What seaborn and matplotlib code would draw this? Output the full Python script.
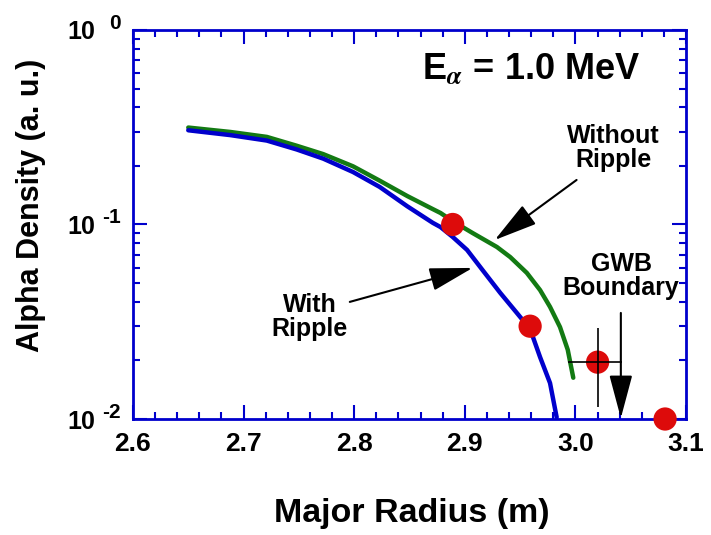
import numpy as np
import matplotlib
matplotlib.use('Agg')
import matplotlib.pyplot as plt
import seaborn as sns

# Alpha density profiles (major radius in m, density in a.u.)
r_without = [2.650, 2.688, 2.721, 2.748, 2.772, 2.799, 2.823, 2.848, 2.871, 2.878,
             2.889, 2.907, 2.929, 2.941, 2.956, 2.968, 2.977, 2.986, 2.993, 2.998]
n_without = [0.315, 0.299, 0.282, 0.254, 0.230, 0.199, 0.168, 0.140, 0.120, 0.1146,
             0.104, 0.0904, 0.0766, 0.068, 0.0564, 0.046, 0.0377, 0.0297, 0.0227, 0.0163]

r_with = [2.650, 2.688, 2.721, 2.748, 2.772, 2.799, 2.823, 2.848, 2.871, 2.878,
          2.889, 2.902, 2.916, 2.932, 2.947, 2.959, 2.968, 2.977, 2.983]
n_with = [0.305, 0.288, 0.270, 0.243, 0.218, 0.186, 0.156, 0.124, 0.102, 0.097,
          0.0863, 0.074, 0.0583, 0.0445, 0.0351, 0.029, 0.0208, 0.0153, 0.0102]

# red measurement points
r_points = [2.889, 2.959, 3.020, 3.081]
n_points = [0.100, 0.030, 0.0196, 0.0100]

# error bar on the third point
err_r = 3.020
err_n = 0.0196
err_r_range = [2.993, 3.042]
err_n_range = [0.0115, 0.0294]

x_ticks = [2.6, 2.7, 2.8, 2.9, 3.0, 3.1]
y_ticks = [1e-2, 1e-1, 1e0]
y_exponents = ['-2', '-1', '0']

blue = '#0000cc'
green = '#137a13'
red = '#dd0b0b'

sns.set_theme(style='ticks')
plt.rcParams['font.family'] = ['Liberation Sans', 'DejaVu Sans']
plt.rcParams['font.weight'] = 'bold'
plt.rcParams['text.color'] = 'black'
plt.rcParams['axes.labelcolor'] = 'black'
plt.rcParams['xtick.labelcolor'] = 'black'
plt.rcParams['ytick.labelcolor'] = 'black'

fig = plt.figure(figsize=(7.11, 5.35), dpi=100)
ax = fig.add_axes([0.187, 0.2168, 0.778, 0.7272])

sns.lineplot(x=r_without, y=n_without, color=green, lw=3.2, ax=ax, sort=False)
sns.lineplot(x=r_with, y=n_with, color=blue, lw=3.2, ax=ax, sort=False)
sns.scatterplot(x=r_points, y=n_points, color=red, s=280, edgecolor='none',
                ax=ax, zorder=4, clip_on=False)

ax.errorbar(err_r, err_n,
            xerr=[[err_r - err_r_range[0]], [err_r_range[1] - err_r]],
            yerr=[[err_n - err_n_range[0]], [err_n_range[1] - err_n]],
            fmt='none', ecolor='black', elinewidth=1.2, capsize=0, zorder=5)

ax.set_yscale('log')
ax.set_xlim(2.6, 3.1)
ax.set_ylim(1e-2, 1e0)

ax.set_xticks(x_ticks)
ax.set_xticklabels([f'{t:.1f}' for t in x_ticks])
ax.xaxis.set_minor_locator(matplotlib.ticker.MultipleLocator(0.02))
ax.set_yticks(y_ticks)
ax.set_yticklabels(['10'] * len(y_ticks))
ax.yaxis.set_minor_locator(matplotlib.ticker.LogLocator(base=10, subs=np.arange(2, 10)))
ax.yaxis.set_minor_formatter(matplotlib.ticker.NullFormatter())

# exponents drawn beside the "10" labels
for t, e in zip(y_ticks, y_exponents):
    ax.annotate(e, xy=(0, t), xycoords=ax.get_yaxis_transform(),
                xytext=(-8.6, 5), textcoords='offset points',
                ha='right', va='center', fontsize=15, fontweight='bold',
                annotation_clip=False)

for side in ['left', 'right', 'top', 'bottom']:
    ax.spines[side].set_color(blue)
    ax.spines[side].set_linewidth(2)

ax.tick_params(which='both', direction='in', top=True, right=True, color=blue, width=1.5)
ax.tick_params(which='major', length=10)
ax.tick_params(which='minor', length=5)
ax.tick_params(axis='x', which='major', labelsize=19, pad=9)
ax.tick_params(axis='y', which='major', labelsize=18, pad=27)

ax.set_xlabel('Major Radius (m)', fontsize=24.5, fontweight='bold')
ax.xaxis.set_label_coords(0.505, -0.2416)
ax.xaxis.label.set_va('center')
ax.set_ylabel('Alpha Density (a. u.)', fontsize=22, fontweight='bold')
ax.yaxis.set_label_coords(-0.184, 0.548)
ax.yaxis.label.set_va('center')

# annotations
ax.text(0.72, 0.871, r'E$_{\alpha}$ = 1.0 MeV', transform=ax.transAxes,
        ha='center', va='baseline', fontsize=26, fontweight='bold', math_fontfamily='stix')
ax.text(0.868, 0.697, 'Without\nRipple', transform=ax.transAxes, ha='center',
        va='center', fontsize=18, fontweight='bold', linespacing=1.0)
ax.text(0.32, 0.262, 'With\nRipple', transform=ax.transAxes, ha='center',
        va='center', fontsize=18, fontweight='bold', linespacing=1.0)
ax.text(0.8825, 0.3676, 'GWB\nBoundary', transform=ax.transAxes, ha='center',
        va='center', fontsize=18, fontweight='bold', linespacing=1.0)

arrow = dict(arrowstyle='-|>,head_length=2.7,head_width=0.72', mutation_scale=10,
             color='black', lw=1.5, shrinkA=0, shrinkB=0)
ax.annotate('', xy=(2.927, 0.0832), xytext=(3.001, 0.1694), arrowprops=arrow)
ax.annotate('', xy=(2.907, 0.0598), xytext=(2.796, 0.040), arrowprops=arrow)
ax.annotate('', xy=(3.041, 0.0101), xytext=(3.041, 0.0351), arrowprops=arrow,
            annotation_clip=False)

fig.savefig('out.png', dpi=100)
